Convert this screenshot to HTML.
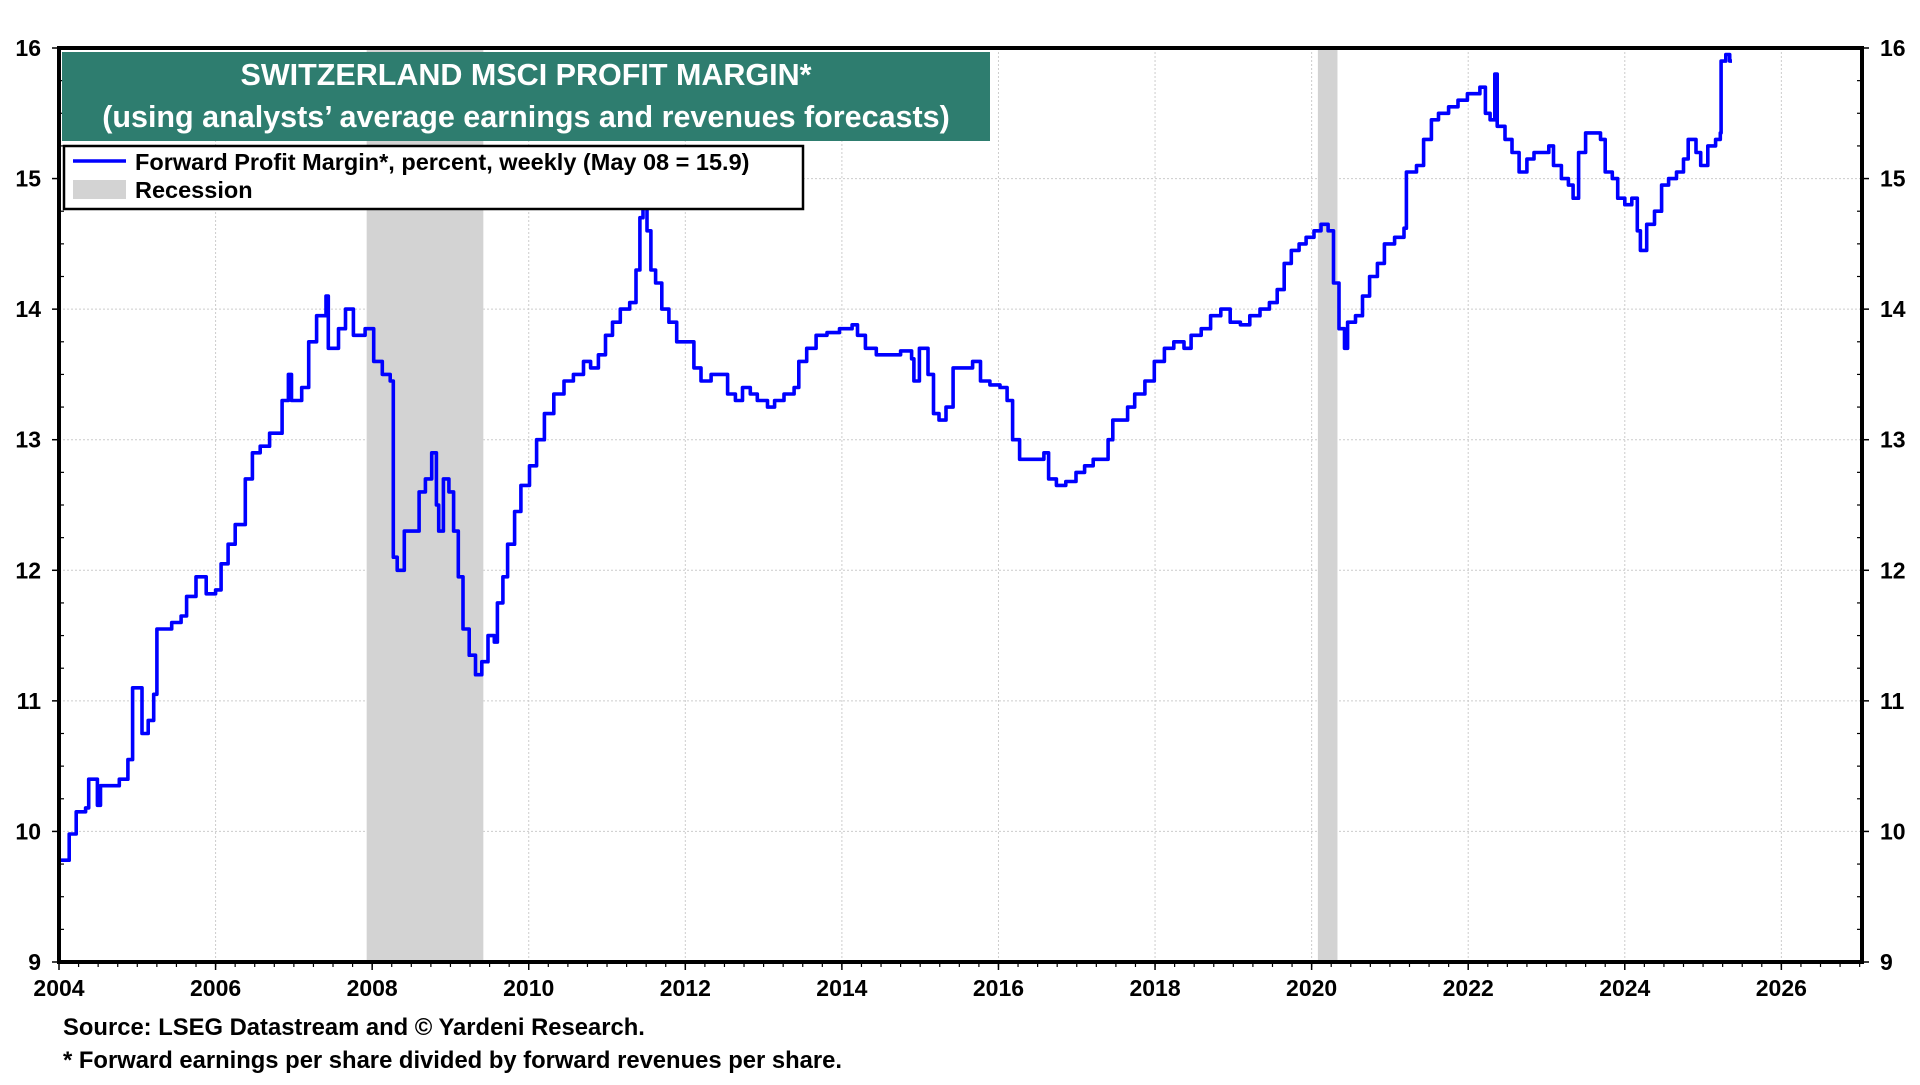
<!DOCTYPE html>
<html><head><meta charset="utf-8">
<style>
html,body{margin:0;padding:0;background:#fff;}
body{width:1920px;height:1080px;overflow:hidden;font-family:"Liberation Sans",Arial,sans-serif;}
svg text{font-family:"Liberation Sans",Arial,sans-serif;font-weight:bold;}
</style></head>
<body>
<svg id="chart" width="1920" height="1080" xmlns="http://www.w3.org/2000/svg">
<g id="grid"></g>
<g id="recess"></g>
<g id="series"></g>
<g id="axes"></g>
<g>
<rect x="62" y="52" width="928" height="89" fill="#2e7d6f"/>
<text x="526" y="85" text-anchor="middle" font-size="30.5" fill="#fff">SWITZERLAND MSCI PROFIT MARGIN*</text>
<text x="526" y="127" text-anchor="middle" font-size="30.5" fill="#fff">(using analysts’ average earnings and revenues forecasts)</text>
</g>
<g>
<rect x="64" y="146" width="739" height="63" fill="#fff" stroke="#000" stroke-width="2.5"/>
<line x1="73" y1="161" x2="126" y2="161" stroke="#0000ff" stroke-width="3.5"/>
<text x="135" y="170" font-size="23.5" fill="#000">Forward Profit Margin*, percent, weekly (May 08 = 15.9)</text>
<rect x="73" y="180" width="53" height="19" fill="#d3d3d3"/>
<text x="135" y="198" font-size="23.5" fill="#000">Recession</text>
</g>
<text x="63" y="1035" font-size="23.8" fill="#000">Source: LSEG Datastream and © Yardeni Research.</text>
<text x="63" y="1068" font-size="23.8" fill="#000">* Forward earnings per share divided by forward revenues per share.</text>
</svg>
<script>
const dates=[2004.00,2004.11,2004.13,2004.22,2004.34,2004.38,2004.47,2004.49,2004.53,2004.74,2004.77,2004.88,2004.94,2005.06,2005.14,2005.21,2005.25,2005.44,2005.56,2005.63,2005.75,2005.85,2005.88,2006.00,2006.07,2006.16,2006.25,2006.38,2006.47,2006.57,2006.69,2006.85,2006.93,2006.97,2007.10,2007.19,2007.29,2007.41,2007.44,2007.57,2007.66,2007.76,2007.91,2008.02,2008.13,2008.23,2008.27,2008.32,2008.41,2008.51,2008.60,2008.68,2008.76,2008.82,2008.85,2008.91,2008.98,2009.04,2009.10,2009.16,2009.24,2009.32,2009.40,2009.48,2009.56,2009.60,2009.67,2009.73,2009.82,2009.90,2010.01,2010.10,2010.20,2010.32,2010.45,2010.57,2010.70,2010.79,2010.89,2010.98,2011.07,2011.17,2011.29,2011.37,2011.42,2011.46,2011.51,2011.56,2011.62,2011.70,2011.79,2011.89,2012.01,2012.11,2012.20,2012.33,2012.45,2012.54,2012.64,2012.73,2012.83,2012.92,2013.05,2013.14,2013.26,2013.39,2013.45,2013.55,2013.67,2013.81,2013.97,2014.13,2014.20,2014.30,2014.44,2014.59,2014.75,2014.89,2014.92,2014.99,2015.05,2015.10,2015.17,2015.24,2015.33,2015.42,2015.55,2015.67,2015.77,2015.89,2016.02,2016.11,2016.18,2016.27,2016.39,2016.49,2016.58,2016.64,2016.74,2016.86,2016.99,2017.10,2017.21,2017.33,2017.40,2017.46,2017.55,2017.65,2017.74,2017.87,2017.99,2018.12,2018.24,2018.37,2018.46,2018.59,2018.71,2018.84,2018.96,2019.09,2019.21,2019.34,2019.46,2019.56,2019.65,2019.74,2019.84,2019.93,2020.03,2020.12,2020.21,2020.28,2020.35,2020.42,2020.46,2020.56,2020.65,2020.74,2020.84,2020.93,2021.06,2021.18,2021.21,2021.34,2021.43,2021.53,2021.62,2021.75,2021.87,2021.99,2022.09,2022.15,2022.22,2022.28,2022.34,2022.37,2022.47,2022.56,2022.65,2022.75,2022.84,2022.94,2023.03,2023.09,2023.19,2023.28,2023.34,2023.41,2023.50,2023.59,2023.69,2023.75,2023.84,2023.91,2024.00,2024.09,2024.16,2024.20,2024.28,2024.38,2024.47,2024.56,2024.66,2024.75,2024.81,2024.91,2024.97,2025.06,2025.16,2025.22,2025.23,2025.29,2025.34,2025.37];
const values=[9.78,9.78,9.98,10.15,10.18,10.4,10.4,10.2,10.35,10.35,10.4,10.55,11.1,10.75,10.85,11.05,11.55,11.6,11.65,11.8,11.95,11.95,11.82,11.85,12.05,12.2,12.35,12.7,12.9,12.95,13.05,13.3,13.5,13.3,13.4,13.75,13.95,14.1,13.7,13.85,14.0,13.8,13.85,13.6,13.5,13.45,12.1,12.0,12.3,12.3,12.6,12.7,12.9,12.5,12.3,12.7,12.6,12.3,11.95,11.55,11.35,11.2,11.3,11.5,11.45,11.75,11.95,12.2,12.45,12.65,12.8,13.0,13.2,13.35,13.45,13.5,13.6,13.55,13.65,13.8,13.9,14.0,14.05,14.3,14.7,14.8,14.6,14.3,14.2,14.0,13.9,13.75,13.75,13.55,13.45,13.5,13.5,13.35,13.3,13.4,13.35,13.3,13.25,13.3,13.35,13.4,13.6,13.7,13.8,13.82,13.85,13.88,13.8,13.7,13.65,13.65,13.68,13.62,13.45,13.7,13.7,13.5,13.2,13.15,13.25,13.55,13.55,13.6,13.45,13.42,13.4,13.3,13.0,12.85,12.85,12.85,12.9,12.7,12.65,12.68,12.75,12.8,12.85,12.85,13.0,13.15,13.15,13.25,13.35,13.45,13.6,13.7,13.75,13.7,13.8,13.85,13.95,14.0,13.9,13.88,13.95,14.0,14.05,14.15,14.35,14.45,14.5,14.55,14.6,14.65,14.6,14.2,13.85,13.7,13.9,13.95,14.1,14.25,14.35,14.5,14.55,14.62,15.05,15.1,15.3,15.45,15.5,15.55,15.6,15.65,15.65,15.7,15.5,15.45,15.8,15.4,15.3,15.2,15.05,15.15,15.2,15.2,15.25,15.1,15.0,14.95,14.85,15.2,15.35,15.35,15.3,15.05,15.0,14.85,14.8,14.85,14.6,14.45,14.65,14.75,14.95,15.0,15.05,15.15,15.3,15.2,15.1,15.25,15.3,15.35,15.9,15.95,15.9,15.9];
const recStart=[2007.93,2020.08];
const recEnd=[2009.42,2020.33];
const yTicks=[9,10,11,12,13,14,15,16];
const xTicks=[2004,2006,2008,2010,2012,2014,2016,2018,2020,2022,2024,2026];

const NS="http://www.w3.org/2000/svg";
const L=59,R=1862,T=48,B=962,X0=2004,X1=2027.03,Y0=9,Y1=16;
const sx=v=>L+(v-X0)/(X1-X0)*(R-L);
const sy=v=>B-(v-Y0)/(Y1-Y0)*(B-T);
function mk(tag,attrs,parent){const e=document.createElementNS(NS,tag);for(const k in attrs)e.setAttribute(k,attrs[k]);parent.appendChild(e);return e;}
const grid=document.getElementById('grid'),axes=document.getElementById('axes'),rec=document.getElementById('recess'),ser=document.getElementById('series');

yTicks.forEach(v=>{
  if(v>Y0&&v<Y1){const g=mk('line',{x1:L,x2:R,y1:sy(v),y2:sy(v),stroke:'#ccc','stroke-width':1,'stroke-dasharray':'2,2'},grid);
  
  }
  const a=mk('text',{x:41,y:sy(v)+8,'text-anchor':'end','font-size':23},axes);a.textContent=v;
  
  
  const b=mk('text',{x:1880,y:sy(v)+8,'text-anchor':'start','font-size':23},axes);b.textContent=v;
  
  
  mk('line',{x1:L-7,x2:L,y1:sy(v),y2:sy(v),stroke:'#000','stroke-width':1.5},axes);
  mk('line',{x1:R,x2:R+7,y1:sy(v),y2:sy(v),stroke:'#000','stroke-width':1.5},axes);
});
for(let v=Y0+0.25;v<Y1;v+=0.25){if(Math.abs(v-Math.round(v))<0.01)continue;
  mk('line',{x1:L,x2:L+5,y1:sy(v),y2:sy(v),stroke:'#000','stroke-width':1.2},axes);
  mk('line',{x1:R-5,x2:R,y1:sy(v),y2:sy(v),stroke:'#000','stroke-width':1.2},axes);}
xTicks.forEach(v=>{
  if(v>X0){const g=mk('line',{x1:sx(v),x2:sx(v),y1:T,y2:B,stroke:'#ccc','stroke-width':1,'stroke-dasharray':'2,2'},grid);
  
  }
  const t=mk('text',{x:sx(v),y:996,'text-anchor':'middle','font-size':23},axes);t.textContent=v;
  
  
  mk('line',{x1:sx(v),x2:sx(v),y1:B,y2:B+8,stroke:'#000','stroke-width':1.5},axes);
});
for(let v=X0+0.25;v<X1;v+=0.25){mk('line',{x1:sx(v),x2:sx(v),y1:B,y2:B+5,stroke:'#000','stroke-width':1.2},axes);}
recStart.forEach((s,i)=>{const r=mk('rect',{x:sx(s),y:T,width:sx(recEnd[i])-sx(s),height:B-T,fill:'#d3d3d3'},rec);
  
  });
let d='M'+sx(dates[0])+','+sy(values[0]);
for(let i=1;i<dates.length;i++){d+=' H'+sx(dates[i]).toFixed(1)+' V'+sy(values[i]).toFixed(1);}
const p=mk('path',{d:d,fill:'none',stroke:'#0000ff','stroke-width':3.6,'stroke-linejoin':'round'},ser);


const f=mk('rect',{x:L,y:T,width:R-L,height:B-T,fill:'none',stroke:'#000','stroke-width':4},axes);


</script>
</body></html>
